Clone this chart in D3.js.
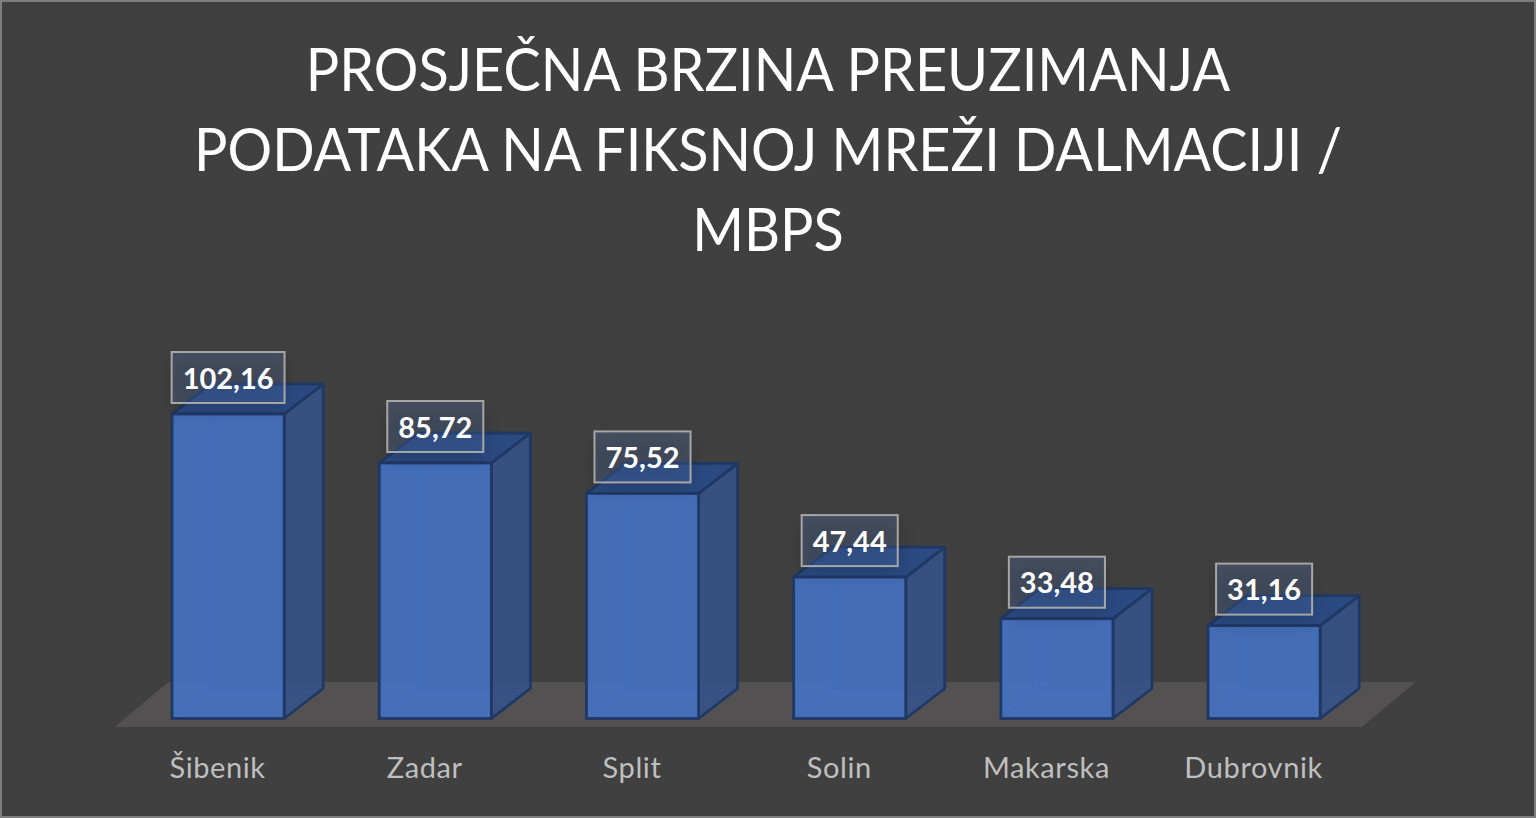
<!DOCTYPE html>
<meta charset="utf-8">
<style>
  html, body { margin: 0; padding: 0; background: #404040; }
  svg { display: block; }
</style>

<!-- Load d3.js -->
<script src="https://d3js.org/d3.v7.min.js"></script>

<div id="my_dataviz"></div>

<script>

// chart data
var categories = ["Šibenik", "Zadar", "Split", "Solin", "Makarska", "Dubrovnik"];
var speeds = [102.16, 85.72, 75.52, 47.44, 33.48, 31.16];
var speedLabels = ["102,16", "85,72", "75,52", "47,44", "33,48", "31,16"];
var titleLines = ["PROSJEČNA BRZINA PREUZIMANJA", "PODATAKA NA FIKSNOJ MREŽI DALMACIJI /", "MBPS"];

var width = 1536, height = 818;
var depthX = 39, depthY = 30;

var svg = d3.select("#my_dataviz")
  .append("svg")
    .attr("width", width)
    .attr("height", height)
    .style("font-family", "Lato, 'Open Sans', sans-serif");

var defs = svg.append("defs");
var shadow = defs.append("filter")
    .attr("id", "boxShadow")
    .attr("x", "-30%").attr("y", "-30%")
    .attr("width", "160%").attr("height", "170%");
shadow.append("feGaussianBlur").attr("stdDeviation", 9);

// background and frame
svg.append("rect")
    .attr("x", 1).attr("y", 1)
    .attr("width", width - 2).attr("height", height - 2)
    .attr("fill", "#404040")
    .attr("stroke", "#7f7f7f")
    .attr("stroke-width", 2);

// scales
var x = d3.scaleBand()
    .domain(categories)
    .range([124.5, 1367.7])
    .paddingInner(0.459)
    .paddingOuter(0.2295);

var y = d3.scaleLinear()
    .domain([0, 102.16])
    .range([718.5, 414]);

// title, Lato runs wider than the original face so it is squeezed a bit
svg.append("g")
    .attr("transform", "translate(768,0) scale(0.93,1)")
  .selectAll("text")
    .data(titleLines)
    .enter()
    .append("text")
      .attr("x", 0)
      .attr("y", function(d, i) { return 91 + i * 80; })
      .attr("text-anchor", "middle")
      .attr("fill", "#ffffff")
      .style("font-size", "60px")
      .text(function(d) { return d; });

// floor
var floorLeft = x.range()[0] - 10, floorRight = x.range()[1] - 6;
svg.append("path")
    .attr("d", "M" + floorLeft + "," + (y(0) + 8.5)
      + "L" + floorRight + "," + (y(0) + 8.5)
      + "L" + (floorRight + 54) + "," + (y(0) - 36.5)
      + "L" + (floorLeft + 54) + "," + (y(0) - 36.5) + "Z")
    .attr("fill", "#535151");

var data = categories.map(function(c, i) {
  return { name: c, value: speeds[i], label: speedLabels[i] };
});

var bars = svg.append("g").selectAll("g")
    .data(data)
    .enter()
    .append("g");

// hidden edges of the box, seen through the front
bars.append("path")
    .attr("d", function(d) {
      var x0 = x(d.name), x1 = x0 + x.bandwidth(), y0 = y(0), y1 = y(d.value);
      return "M" + x0 + "," + y0 + "L" + (x0 + depthX) + "," + (y0 - depthY)
        + "L" + (x1 + depthX) + "," + (y0 - depthY)
        + "M" + (x0 + depthX) + "," + (y0 - depthY)
        + "L" + (x0 + depthX) + "," + (y1 - depthY);
    })
    .attr("fill", "none")
    .attr("stroke", "#203864")
    .attr("stroke-width", 1.5);

// right side
bars.append("path")
    .attr("d", function(d) {
      var x1 = x(d.name) + x.bandwidth(), y0 = y(0), y1 = y(d.value);
      return "M" + x1 + "," + y0 + "L" + (x1 + depthX) + "," + (y0 - depthY)
        + "L" + (x1 + depthX) + "," + (y1 - depthY)
        + "L" + x1 + "," + y1 + "Z";
    })
    .attr("fill", "#355388")
    .attr("fill-opacity", 0.9)
    .attr("stroke", "#203864")
    .attr("stroke-width", 2.8)
    .attr("stroke-linejoin", "round");

// top
bars.append("path")
    .attr("d", function(d) {
      var x0 = x(d.name), x1 = x0 + x.bandwidth(), y1 = y(d.value);
      return "M" + x0 + "," + y1 + "L" + x1 + "," + y1
        + "L" + (x1 + depthX) + "," + (y1 - depthY)
        + "L" + (x0 + depthX) + "," + (y1 - depthY) + "Z";
    })
    .attr("fill", "#2b4a82")
    .attr("stroke", "#203864")
    .attr("stroke-width", 2.8)
    .attr("stroke-linejoin", "round");

// front
bars.append("rect")
    .attr("x", function(d) { return x(d.name); })
    .attr("y", function(d) { return y(d.value); })
    .attr("width", x.bandwidth())
    .attr("height", function(d) { return y(0) - y(d.value); })
    .attr("fill", "#4472c4")
    .attr("fill-opacity", 0.9)
    .attr("stroke", "#203864")
    .attr("stroke-width", 2.8);

// value labels in their boxes
var labels = svg.append("g").selectAll("g")
    .data(data)
    .enter()
    .append("g")
      .attr("transform", function(d) {
        return "translate(" + (x(d.name) + x.bandwidth() / 2) + "," + (y(d.value) - 36.5) + ")";
      });

labels.append("text")
    .attr("text-anchor", "middle")
    .attr("y", 1)
    .attr("dy", "0.35em")
    .attr("fill", "#ffffff")
    .style("font-size", "29px")
    .style("font-weight", 700)
    .text(function(d) { return d.label; });

labels.each(function() {
  var g = d3.select(this);
  var w = g.select("text").node().getComputedTextLength() + 22;
  g.insert("rect", "text")
      .attr("x", -w / 2 - 2).attr("y", -18)
      .attr("width", w + 4).attr("height", 50)
      .attr("fill", "#000000")
      .attr("fill-opacity", 0.16)
      .attr("filter", "url(#boxShadow)");
  g.insert("rect", "text")
      .attr("x", -w / 2).attr("y", -25.5)
      .attr("width", w).attr("height", 51)
      .attr("fill", "#5f8ad0")
      .attr("fill-opacity", 0.22)
      .attr("stroke", "#a6a6a6")
      .attr("stroke-width", 2);
});

// category labels
svg.append("g").selectAll("text")
    .data(categories)
    .enter()
    .append("text")
      .attr("x", function(d) { return x(d) + x.bandwidth() / 2 - 10.5; })
      .attr("y", 778)
      .attr("text-anchor", "middle")
      .attr("fill", "#bfbfbf")
      .style("font-size", "29px")
      .style("letter-spacing", "0.6px")
      .text(function(d) { return d; });

</script>
